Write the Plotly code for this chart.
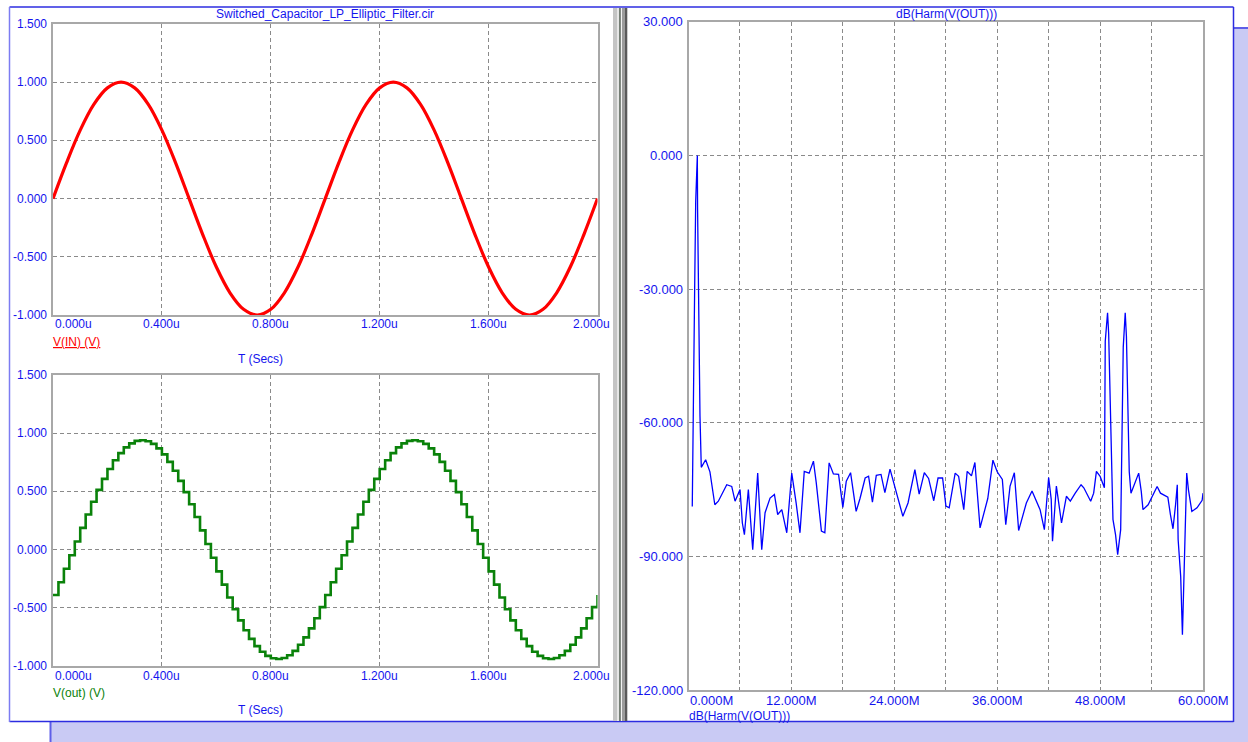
import plotly.graph_objects as go

W, H = 1248, 742

# ---------------- data ----------------
vin_t = [i * 0.05 for i in range(41)]
vin_v = [0.000, 0.309, 0.588, 0.809, 0.951, 1.000, 0.951, 0.809, 0.588, 0.309,
         0.000, -0.309, -0.588, -0.809, -0.951, -1.000, -0.951, -0.809, -0.588, -0.309,
         0.000, 0.309, 0.588, 0.809, 0.951, 1.000, 0.951, 0.809, 0.588, 0.309,
         0.000, -0.309, -0.588, -0.809, -0.951, -1.000, -0.951, -0.809, -0.588, -0.309,
         0.000]

# V(out): sampled-and-held output, one step every 0.02 us
vout_t = [i * 0.02 for i in range(101)]
vout_v = [-0.390, -0.280, -0.165, -0.048, 0.070, 0.187, 0.301, 0.411, 0.513, 0.608,
          0.693, 0.767, 0.829, 0.878, 0.913, 0.934, 0.940, 0.931, 0.908, 0.870,
          0.818, 0.754, 0.677, 0.590, 0.494, 0.390, 0.280, 0.165, 0.048, -0.070,
          -0.187, -0.301, -0.411, -0.513, -0.608, -0.693, -0.767, -0.829, -0.878, -0.913,
          -0.934, -0.940, -0.931, -0.908, -0.870, -0.818, -0.754, -0.677, -0.590, -0.494,
          -0.390, -0.280, -0.165, -0.048, 0.070, 0.187, 0.301, 0.411, 0.513, 0.608,
          0.693, 0.767, 0.829, 0.878, 0.913, 0.934, 0.940, 0.931, 0.908, 0.870,
          0.818, 0.754, 0.677, 0.590, 0.494, 0.390, 0.280, 0.165, 0.048, -0.070,
          -0.187, -0.301, -0.411, -0.513, -0.608, -0.693, -0.767, -0.829, -0.878, -0.913,
          -0.934, -0.940, -0.931, -0.908, -0.870, -0.818, -0.754, -0.677, -0.590, -0.494,
          -0.390]

# dB(Harm(V(OUT))): frequency in MHz, level in dB
spec_f = [0.44, 0.48, 0.56, 0.72, 0.84, 1.03, 1.06, 1.19, 1.34, 1.49,
          2.0, 2.5, 3.07, 3.48, 4.46, 5.04, 5.43, 6.01, 6.28, 6.52,
          6.98, 7.49, 8.07, 8.54, 8.93, 9.51, 10.02, 10.4, 10.88, 11.46,
          12.04, 12.55, 13.0, 13.5, 14.07, 14.57, 14.9, 15.5, 15.9, 16.4,
          16.9, 17.5, 18.0, 18.4, 18.9, 19.55, 20.0, 20.6, 21.0, 21.45,
          21.9, 22.45, 22.9, 23.5, 24.1, 25.0, 25.6, 26.4, 26.9, 27.5,
          28.0, 28.6, 29.1, 29.63, 30.02, 30.4, 31.1, 31.5, 32.1, 32.5,
          33.0, 33.4, 34.0, 34.9, 35.5, 36.0, 36.6, 37.0, 37.5, 38.0,
          38.5, 39.4, 40.06, 41.0, 41.5, 42.0, 42.3, 42.45, 42.9, 43.5,
          44.07, 44.53, 45.1, 45.78, 46.1, 46.9, 47.25, 47.57, 48.0, 48.5,
          48.6, 48.87, 49.0, 49.3, 49.5, 49.8, 50.05, 50.4, 50.6, 50.7,
          50.93, 51.07, 51.3, 51.4, 51.6, 52.5, 52.8, 53.0, 53.6, 53.95,
          54.65, 55.04, 55.9, 56.2, 56.5, 56.8, 57.0, 57.1, 57.4, 57.6,
          57.7, 57.85, 58.1, 58.3, 58.7, 59.3, 59.9, 60.0]
spec_db = [-78.8, -69.0, -49.6, -29.6, -10.3, 0.0, -12.1, -35.3, -58.5, -70.0,
           -68.3, -71.0, -78.4, -77.6, -73.9, -74.3, -77.6, -75.0, -82.5, -85.1,
           -75.0, -88.5, -71.3, -88.5, -80.2, -76.9, -76.1, -80.6, -79.5, -84.7,
           -71.3, -78.0, -84.7, -70.9, -71.3, -68.6, -73.5, -84.3, -84.7, -69.0,
           -71.5, -71.6, -79.0, -73.1, -71.2, -79.9, -77.0, -72.4, -72.0, -77.8,
           -71.8, -71.6, -75.7, -70.4, -74.5, -81.0, -78.0, -70.5, -76.0, -71.2,
           -72.5, -77.5, -72.4, -72.4, -78.7, -79.1, -71.3, -72.0, -79.5, -70.9,
           -71.9, -68.9, -83.6, -77.0, -68.4, -71.0, -72.7, -82.9, -74.2, -71.2,
           -84.2, -78.0, -75.3, -79.5, -84.0, -72.3, -77.2, -86.6, -74.2, -82.5,
           -76.5, -77.6, -75.8, -73.9, -74.6, -77.6, -75.8, -70.9, -72.0, -74.6,
           -41.7, -35.3, -40.0, -62.0, -81.7, -85.1, -89.6, -84.0, -60.0, -43.0,
           -35.3, -40.6, -62.0, -71.0, -75.8, -71.3, -75.4, -79.5, -78.4, -76.9,
           -74.3, -75.8, -76.7, -80.6, -83.8, -78.4, -73.9, -86.2, -94.5, -107.6,
           -102.0, -89.6, -71.3, -75.0, -79.9, -79.1, -77.4, -75.8]

# tick labels
left_y_ticks = [-1.0, -0.5, 0.0, 0.5, 1.0, 1.5]
left_y_labels = ["-1.000", "-0.500", "0.000", "0.500", "1.000", "1.500"]
left_x_ticks = [0.0, 0.4, 0.8, 1.2, 1.6, 2.0]
left_x_labels = ["0.000u", "0.400u", "0.800u", "1.200u", "1.600u", "2.000u"]
spec_y_ticks = [-120, -90, -60, -30, 0, 30]
spec_y_labels = ["-120.000", "-90.000", "-60.000", "-30.000", "0.000", "30.000"]
spec_x_ticks = [0, 12, 24, 36, 48, 60]
spec_x_labels = ["0.000M", "12.000M", "24.000M", "36.000M", "48.000M", "60.000M"]
spec_x_grid = [0, 6, 12, 18, 24, 30, 36, 42, 48, 54, 60]

# ---------------- helpers ----------------
def px(x):
    return x / W


def py(y):
    return 1 - y / H


FONT = "Liberation Sans, Arial, sans-serif"
BLUE = "#1414EE"
GRID = "#8A8A8A"
FRAME = "#A8A8A8"

fig = go.Figure()
fig.add_trace(go.Scatter(x=vin_t, y=vin_v, mode="lines", line=dict(color="#FF0000", width=3.2, shape="spline"),
                         xaxis="x", yaxis="y", showlegend=False))
fig.add_trace(go.Scatter(x=vout_t, y=vout_v, mode="lines", line=dict(color="#0A820A", width=2.6, shape="hv"),
                         xaxis="x2", yaxis="y2", showlegend=False))
fig.add_trace(go.Scatter(x=spec_f, y=spec_db, mode="lines", line=dict(color="#0000FF", width=1.3),
                         xaxis="x3", yaxis="y3", showlegend=False))

axis_common = dict(showline=True, mirror=True, linecolor=FRAME, linewidth=2, showgrid=True,
                   gridcolor=GRID, gridwidth=1, griddash="4px,3px", zeroline=False,
                   showticklabels=False, ticks="", automargin=False, fixedrange=True)

fig.update_layout(
    width=W, height=H, margin=dict(l=0, r=0, t=0, b=0),
    paper_bgcolor="white", plot_bgcolor="white", showlegend=False,
    xaxis=dict(domain=[px(53), px(597.5)], range=[0, 2.0], tickvals=left_x_ticks, anchor="y", **axis_common),
    yaxis=dict(domain=[py(315), py(24)], range=[-1.0, 1.5], tickvals=left_y_ticks, anchor="x", **axis_common),
    xaxis2=dict(domain=[px(53), px(597.5)], range=[0, 2.0], tickvals=left_x_ticks, anchor="y2", **axis_common),
    yaxis2=dict(domain=[py(666), py(375)], range=[-1.0, 1.5], tickvals=left_y_ticks, anchor="x2", **axis_common),
    xaxis3=dict(domain=[px(688.5), px(1203)], range=[0, 60], tickvals=spec_x_grid, anchor="y3", **axis_common),
    yaxis3=dict(domain=[py(690), py(22)], range=[-120, 30], tickvals=spec_y_ticks, anchor="x3", **axis_common),
)

ann = []


def text(x, y, s, size=12, color=BLUE, xanchor="center", xref="paper", yref="paper", xshift=0):
    ann.append(dict(x=x, y=y, text=s, showarrow=False, xref=xref, yref=yref, xanchor=xanchor,
                    yanchor="middle", xshift=xshift, font=dict(family=FONT, size=size, color=color)))


# left plots tick labels
for (xa, ya, ybottom) in (("x", "y", 324), ("x2", "y2", 676)):
    for v, lab in zip(left_y_ticks, left_y_labels):
        text(px(49), v, lab, xanchor="right", yref=ya)
    n = len(left_x_ticks)
    for i, (v, lab) in enumerate(zip(left_x_ticks, left_x_labels)):
        if i == 0:
            text(v, py(ybottom), lab, xanchor="left", xref=xa)
        elif i == n - 1:
            text(v, py(ybottom), lab, xanchor="right", xref=xa, xshift=14)
        else:
            text(v, py(ybottom), lab, xref=xa)

# spectrum tick labels
for v, lab in zip(spec_y_ticks, spec_y_labels):
    text(px(685), v, lab, size=13, xanchor="right", yref="y3")
for i, (v, lab) in enumerate(zip(spec_x_ticks, spec_x_labels)):
    text(v, py(700), lab, size=13, xanchor="left" if i == 0 else "center", xref="x3",
         xshift=-1 if i == 0 else 0)

# titles and trace labels
text(px(325), py(14), "Switched_Capacitor_LP_Elliptic_Filter.cir")
text(px(946), py(14), "dB(Harm(V(OUT)))")
text(px(51), py(342), "<u>V(IN) (V)</u>", color="#FF0000", xanchor="left")
text(px(260), py(359), "T (Secs)")
text(px(51), py(693), "V(out) (V)", color="#0A820A", xanchor="left")
text(px(260), py(710), "T (Secs)")
text(px(687), py(716), "dB(Harm(V(OUT)))", xanchor="left")

fig.update_layout(annotations=ann)

# window frame, splitter and background
LAV = "#C9CAF4"
shapes = []


def rect(x0, y0, x1, y1, fill, line=None, lw=0):
    shapes.append(dict(type="rect", xref="paper", yref="paper", x0=px(x0), x1=px(x1), y0=py(y1), y1=py(y0),
                       fillcolor=fill, line=dict(width=lw, color=line or fill), layer="above"))


def seg(x0, y0, x1, y1, color, lw=1.5):
    shapes.append(dict(type="line", xref="paper", yref="paper", x0=px(x0), x1=px(x1), y0=py(y0), y1=py(y1),
                       line=dict(color=color, width=lw), layer="above"))


rect(50, 721, 1248, 742, LAV)
rect(1233, 28, 1248, 742, LAV)
seg(1233, 28, 1248, 28, "#5E5EE8", 2)
seg(50.5, 721, 50.5, 742, "#5E5EE8", 2)
# window border
seg(9.5, 7, 1233.5, 7, "#2C2CE0", 1.5)
seg(1233.5, 7, 1233.5, 722, "#2C2CE0", 1.5)
seg(9.5, 721.5, 1233.5, 721.5, "#2C2CE0", 1.5)
seg(9.5, 7, 9.5, 722, "#7C7CF2", 1.5)
# splitter
rect(613, 8, 617, 721, "#C4C4C4")
rect(617, 8, 619.3, 721, "#E6E6E6")
rect(619.3, 8, 620.8, 721, "#3E4A3E")
rect(620.8, 8, 622, 721, "#F2F2F2")
rect(622, 8, 625, 721, "#9C9C9C")
rect(625, 8, 627.3, 721, "#5A5A5A")

fig.update_layout(shapes=shapes)

fig.write_html("out.html",
               config={"displayModeBar": False, "staticPlot": False},
               post_script="document.body.style.margin='0';document.body.style.overflow='hidden';")
